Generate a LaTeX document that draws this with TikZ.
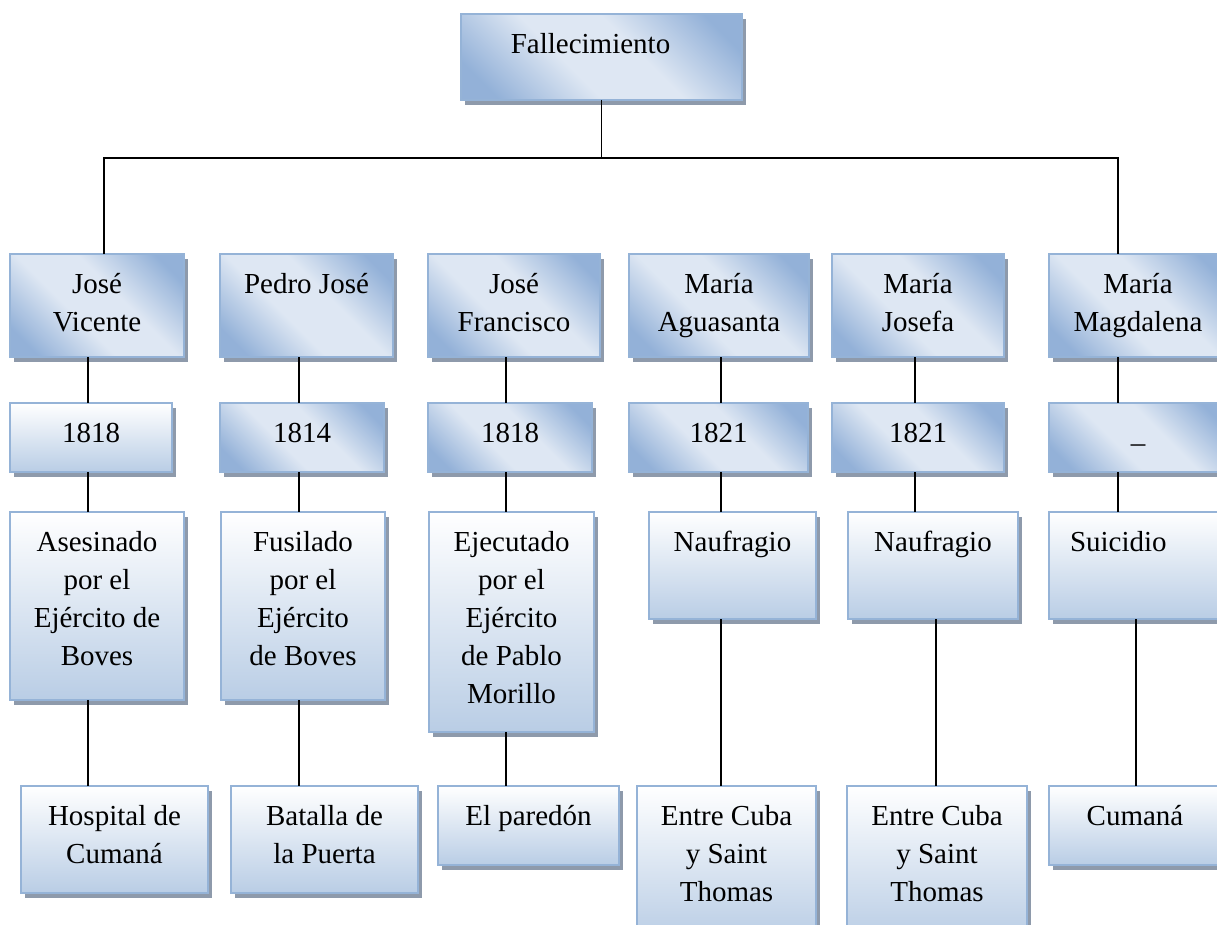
\documentclass[tikz,border=0pt]{standalone}
\usepackage{fontspec}
\setmainfont{Liberation Serif}
\usetikzlibrary{shadows}

\definecolor{cellline}{HTML}{95B3D7}
\definecolor{shadowgray}{HTML}{8E9AAB}
\definecolor{metaldark}{HTML}{93B1D8}
\definecolor{metallight}{HTML}{DEE7F3}
\definecolor{fadeblue}{HTML}{B9CDE5}
\pgfdeclarehorizontalshading{metalblue}{100bp}{color(0bp)=(metaldark); color(22bp)=(metaldark); color(42bp)=(metallight); color(58bp)=(metallight); color(78bp)=(metaldark); color(100bp)=(metaldark)}

% 文字在框内顶部对齐
\newcommand{\boxtext}[3]{\parbox[c][#2pt][t]{#1pt}{\centering\rule{0pt}{39pt}#3}}

\begin{document}
\begin{tikzpicture}[
            x=1pt, y=-1pt,
            font=\fontsize{29}{38}\selectfont,
            cell/.style={draw=cellline, line width=1.5pt, inner sep=0pt, outer sep=0pt,
                drop shadow={shadow xshift=4pt, shadow yshift=-5pt, fill=shadowgray, opacity=1}},
            metal/.style={cell, shading=metalblue, shading angle=45},
            fade/.style={cell, top color=white, bottom color=fadeblue},
            link/.style={line width=1.6pt}
        ]
            \useasboundingbox (0,0) rectangle (1217,924);
            \fill[white] (0,0) rectangle (1217,924);

            % 顶部
            \node[metal] (fall) at (601.5,57) {\boxtext{281}{86}{\hspace*{-22pt}Fallecimiento}};

            % 第一行：姓名
            \node[metal] (v1) at (97,305.5) {\boxtext{174}{103}{José\\Vicente}};
            \node[metal] (v2) at (306.5,305.5) {\boxtext{173}{103}{Pedro José}};
            \node[metal] (v3) at (514,305.5) {\boxtext{172}{103}{José\\Francisco}};
            \node[metal] (v4) at (719,305.5) {\boxtext{180}{103}{María\\Aguasanta}};
            \node[metal] (v5) at (918,305.5) {\boxtext{172}{103}{María\\Josefa}};
            \node[metal] (v6) at (1138,305.5) {\boxtext{178}{103}{María\\Magdalena}};

            % 第二行：年份
            \node[fade] (y1) at (91,437.5) {\boxtext{162}{69}{1818}};
            \node[metal] (y2) at (302,437.5) {\boxtext{164}{69}{1814}};
            \node[metal] (y3) at (510,437.5) {\boxtext{164}{69}{1818}};
            \node[metal] (y4) at (718.5,437.5) {\boxtext{179}{69}{1821}};
            \node[metal] (y5) at (918,437.5) {\boxtext{172}{69}{1821}};
            \node[metal] (y6) at (1138,437.5) {\boxtext{178}{69}{\_}};

            % 第三行：死因
            \node[fade] (c1) at (97,606) {\boxtext{174}{188}{Asesinado\\por el\\Ejército de\\Boves}};
            \node[fade] (c2) at (303,606) {\boxtext{164}{188}{Fusilado\\por el\\Ejército\\de Boves}};
            \node[fade] (c3) at (511.5,622) {\boxtext{165}{220}{Ejecutado\\por el\\Ejército\\de Pablo\\Morillo}};
            \node[fade] (c4) at (732.5,565.5) {\boxtext{167}{107}{Naufragio}};
            \node[fade] (c5) at (933,565.5) {\boxtext{170}{107}{Naufragio}};
            \node[fade] (c6) at (1138,565.5) {\boxtext{178}{107}{\raggedright\hspace*{21pt}Suicidio}};

            % 第四行：地点
            \node[fade] (p1) at (114.5,839.5) {\boxtext{187}{107}{Hospital de\\Cumaná}};
            \node[fade] (p2) at (324.5,839.5) {\boxtext{187}{107}{Batalla de\\la Puerta}};
            \node[fade] (p3) at (528.5,825.5) {\boxtext{181}{79}{El paredón}};
            \node[fade] (p4) at (726.5,863) {\boxtext{179}{154}{Entre Cuba\\y Saint\\Thomas}};
            \node[fade] (p5) at (937,863) {\boxtext{180}{154}{Entre Cuba\\y Saint\\Thomas}};
            \node[fade] (p6) at (1135,825.5) {\boxtext{172}{79}{Cumaná}};

            % 连线
            \coordinate (busL) at (104,158);
            \coordinate (busR) at (1118,158);
            \coordinate (l1) at (88,0);
            \coordinate (l2) at (299,0);
            \coordinate (l3) at (506,0);
            \coordinate (l4) at (721,0);
            \coordinate (l5) at (915,0);
            \coordinate (l5b) at (936,0);
            \coordinate (l6) at (1118,0);
            \coordinate (l6b) at (1136,0);
            \draw[link] (fall.south) -- (fall.south |- busL);
            \draw[link] (v1.north -| busL) -- (busL) -- (busR) -- (v6.north -| busR);

            \draw[link] (v1.south -| l1) -- (y1.north -| l1);
            \draw[link] (y1.south -| l1) -- (c1.north -| l1);
            \draw[link] (c1.south -| l1) -- (p1.north -| l1);

            \draw[link] (v2.south -| l2) -- (y2.north -| l2);
            \draw[link] (y2.south -| l2) -- (c2.north -| l2);
            \draw[link] (c2.south -| l2) -- (p2.north -| l2);

            \draw[link] (v3.south -| l3) -- (y3.north -| l3);
            \draw[link] (y3.south -| l3) -- (c3.north -| l3);
            \draw[link] (c3.south -| l3) -- (p3.north -| l3);

            \draw[link] (v4.south -| l4) -- (y4.north -| l4);
            \draw[link] (y4.south -| l4) -- (c4.north -| l4);
            \draw[link] (c4.south -| l4) -- (p4.north -| l4);

            \draw[link] (v5.south -| l5) -- (y5.north -| l5);
            \draw[link] (y5.south -| l5) -- (c5.north -| l5);
            \draw[link] (c5.south -| l5b) -- (p5.north -| l5b);

            \draw[link] (v6.south -| l6) -- (y6.north -| l6);
            \draw[link] (y6.south -| l6) -- (c6.north -| l6);
            \draw[link] (c6.south -| l6b) -- (p6.north -| l6b);

        \end{tikzpicture}
\end{document}
